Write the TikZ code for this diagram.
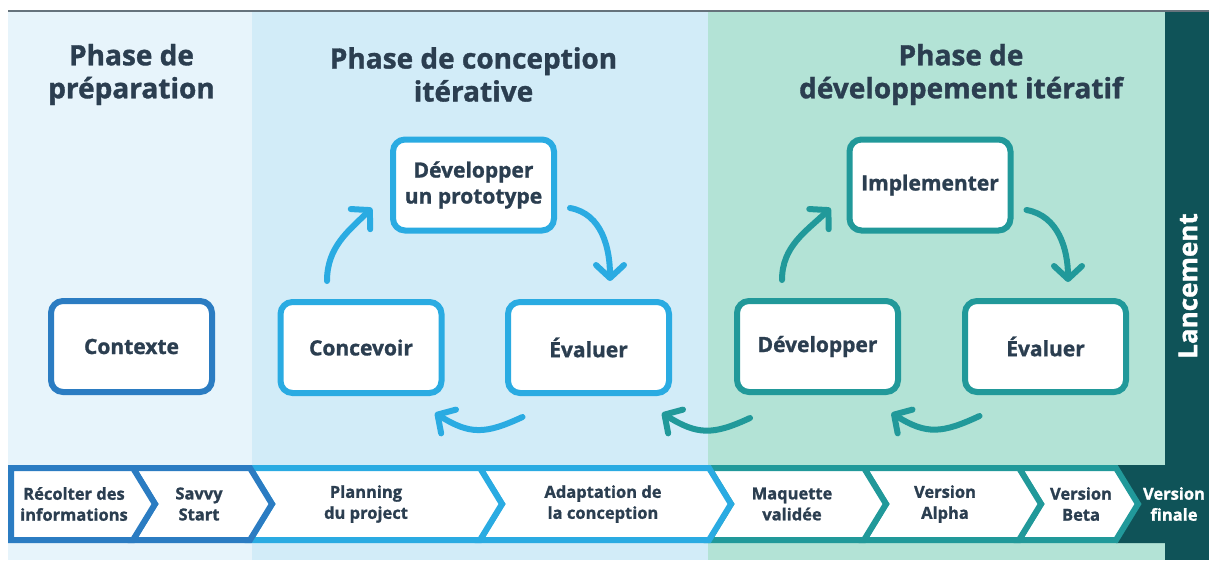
\documentclass[tikz,border=0pt]{standalone}
\usepackage{fontspec}
\setmainfont{Open Sans}[BoldFeatures={FakeBold=1.2}]
\usetikzlibrary{arrows.meta,calc}
\definecolor{txt}{HTML}{2B3E50}
\definecolor{pA}{HTML}{E7F4FB}
\definecolor{pB}{HTML}{D2ECF8}
\definecolor{pC}{HTML}{B3E3D6}
\definecolor{pD}{HTML}{0F5358}
\definecolor{topline}{HTML}{66737C}
\definecolor{cDark}{HTML}{2B7CC2}
\definecolor{cBlue}{HTML}{2AABE2}
\definecolor{cTeal}{HTML}{21999A}
\tikzset{
  box/.style={draw, rounded corners=12, line width=6, fill=white,
    minimum width=161, minimum height=91, align=center, inner sep=0,
    font=\fontsize{21}{26}\selectfont\bfseries, text=txt},
  head/.style={align=center, inner sep=0, text=txt,
    font=\fontsize{28}{33}\selectfont\bfseries},
  lab/.style={align=center, inner sep=0, text=txt,
    font=\fontsize{16.5}{21}\selectfont\bfseries},
  cyc/.style={line width=6, line cap=round,
    -{Straight Barb[length=13,width=28,round]}},
  seg/.style={fill=white, line width=6, line join=miter}
}
\begin{document}
\begin{tikzpicture}[x=1pt,y=1pt]
\useasboundingbox (0,0) rectangle (1209,-560);
\fill[white] (0,0) rectangle (1209,-560);
% panels
\fill[pA] (8,-12) rectangle (252,-560);
\fill[pB] (252,-12) rectangle (708,-560);
\fill[pC] (708,-12) rectangle (1165,-560);
\fill[pD] (1165,-12) rectangle (1209,-560);
\draw[line width=2.5, topline] (8,-11) -- (1209,-11);

% headings
\node[head] (h1) at (131.5,-74.5) {Phase de\\préparation};
\node[head] (h2) at (473.5,-74.5) {Phase de conception\\itérative};
\node[head] (h3) at (961,-74.5) {Phase de\\développement itératif};
\node[rotate=90, inner sep=0, text=white, font=\fontsize{26}{30}\selectfont\bfseries] (lan) at (1188,-286) {Lancement};

% boxes
\node[box, draw=cDark] (ctx) at (131.5,-346.5) {Contexte};
\node[box, draw=cBlue] (conc) at (361,-347.5) {Concevoir};
\node[box, draw=cBlue] (evb) at (588.5,-347.5) {Évaluer};
\node[box, draw=cBlue] (proto) at (473.5,-185) {Développer\\un prototype};
\node[box, draw=cTeal] (devt) at (817.5,-346.5) {Développer};
\node[box, draw=cTeal] (evt) at (1045.5,-346.5) {Évaluer};
\node[box, draw=cTeal] (impl) at (930,-185) {Implementer};

% cycle arrows
\draw[cyc, cBlue] ($(conc.north)+(-34,18)$) to[out=90,in=224] ($(proto.west)+(-18,-23)$);
\draw[cyc, cBlue] ($(proto.east)+(13,-23)$) to[out=-10,in=90] ($(evb.north)+(21.5,18)$);
\draw[cyc, cBlue] ($(evb.south)+(-66,-21)$) to[out=205,in=-32,looseness=1.2] ($(conc.south)+(74,-17)$);
\draw[cyc, cTeal] ($(devt.north)+(-35.5,18)$) to[out=90,in=224] ($(impl.west)+(-16,-23)$);
\draw[cyc, cTeal] ($(impl.east)+(13,-25)$) to[out=-10,in=90] ($(evt.north)+(22.5,16)$);
\draw[cyc, cTeal] ($(evt.south)+(-66,-21)$) to[out=205,in=-32,looseness=1.2] ($(devt.south)+(74,-18)$);
\draw[cyc, cTeal] ($(devt.south)+(-67.5,-23)$) to[out=205,in=-32,looseness=1.2] ($(evb.south)+(73.5,-17)$);

% chevron band (drawn right to left)
\fill[pD] (1116,-465) -- (1209,-465) -- (1209,-543) -- (1116,-543) -- (1138,-504) -- cycle;
\foreach \a/\b/\c in {1019/1116/cTeal, 864/1019/cTeal, 709/864/cTeal, 480/709/cBlue, 250/480/cBlue, 133/250/cDark}{
  \filldraw[seg, draw=\c] (\a,-468) -- (\b,-468) -- (\b+22,-504) -- (\b,-540) -- (\a,-540) -- (\a+22,-504) -- cycle;
}
\filldraw[seg, draw=cDark] (11,-468) -- (133,-468) -- (155,-504) -- (133,-540) -- (11,-540) -- cycle;

% band labels
\node[lab] (b1) at (74,-504) {Récolter des\\informations};
\node[lab] (b2) at (199,-504) {Savvy\\Start};
\node[lab] (b3) at (366,-504) {Planning\\du project};
\node[lab] (b4) at (603,-504) {Adaptation de\\la conception};
\node[lab] (b5) at (792,-504) {Maquette\\validée};
\node[lab] (b6) at (945,-504) {Version\\Alpha};
\node[lab] (b7) at (1081,-504) {Version\\Beta};
\node[lab, text=white] (b8) at (1174,-504) {Version\\finale};
\end{tikzpicture}
\end{document}
